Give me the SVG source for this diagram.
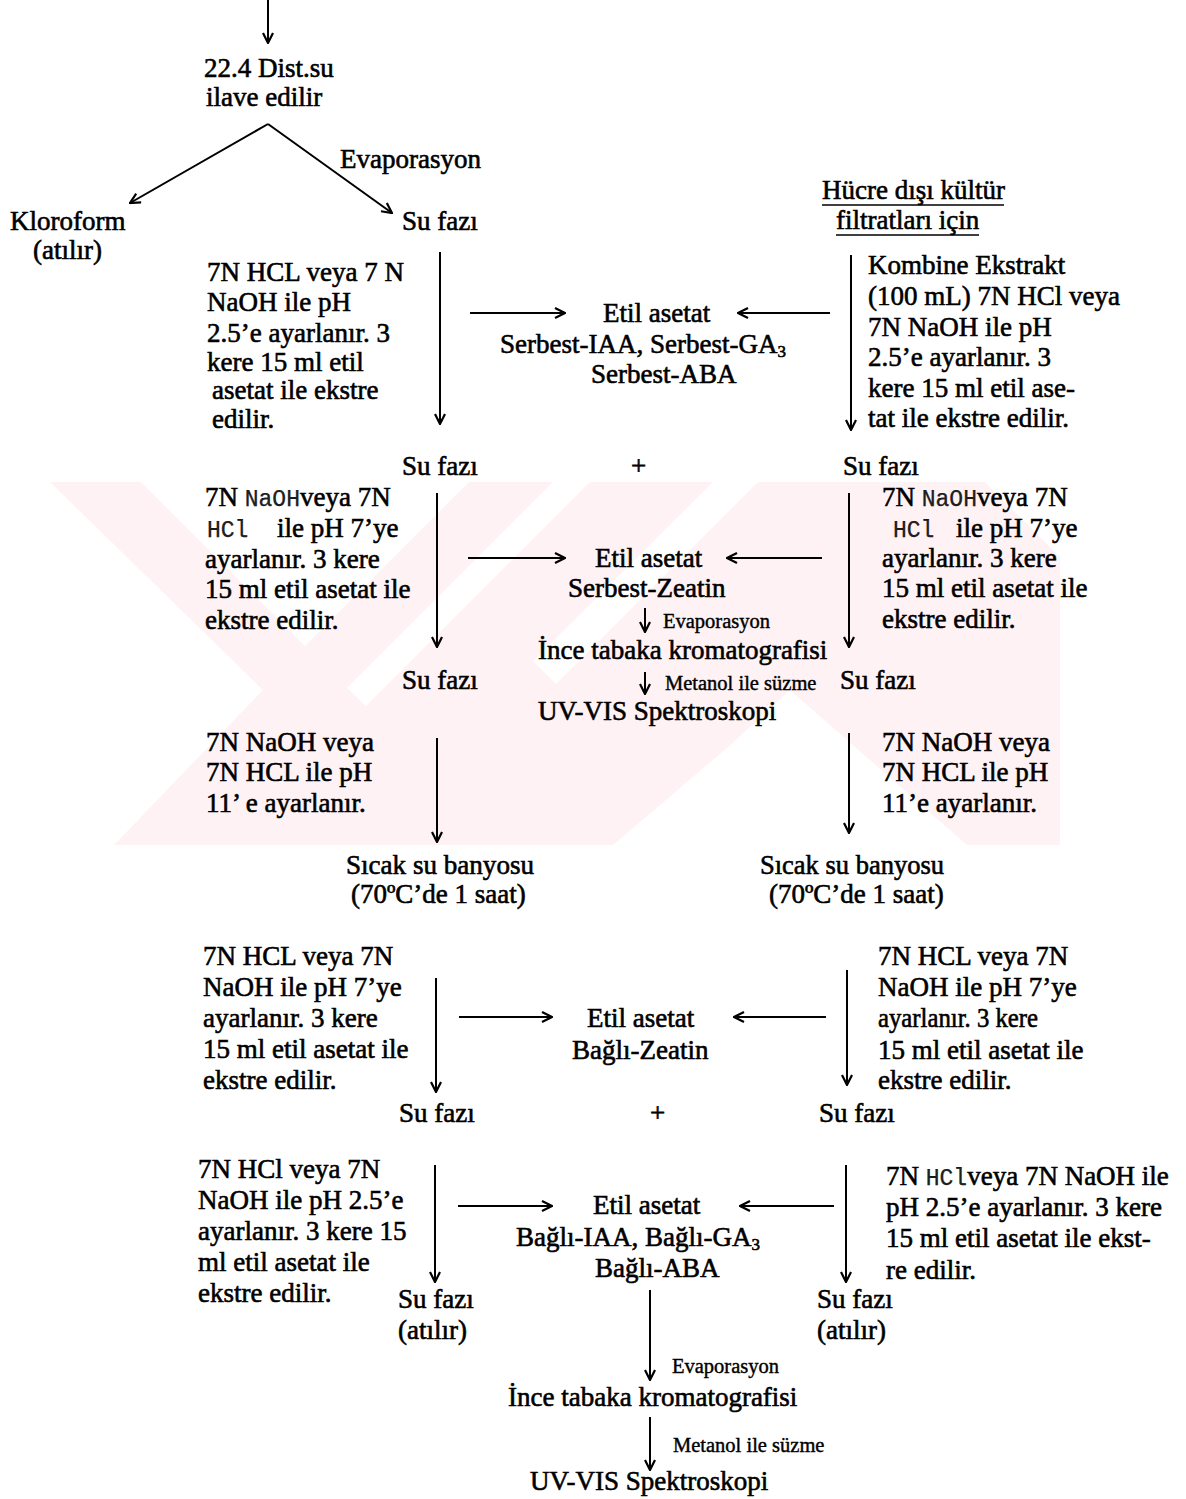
<svg xmlns="http://www.w3.org/2000/svg" width="1186" height="1499" viewBox="0 0 1186 1499">
<style>
text{font-family:"Liberation Serif","Times New Roman",serif;font-size:27px;fill:#000;stroke:#000;stroke-width:0.6}
.sm{font-size:20.5px;stroke-width:0.4}
.mono{font-family:"Liberation Mono","Courier New",monospace;font-size:23px;stroke-width:0.25;fill:#222}
.sub{font-size:17px}
.c line{stroke:#000;stroke-width:2;fill:none}
.ul{stroke:#000;stroke-width:1.6}
.wm{fill:#fef2f4}
.wc{fill:#fff}
</style>
<defs>
<marker id="ah" viewBox="0 0 12 12" refX="11" refY="6" markerWidth="12" markerHeight="12" markerUnits="userSpaceOnUse" orient="auto"><path d="M1,1 L11,6 L1,11" fill="none" stroke="#000" stroke-width="2.2"/></marker>
</defs>
<rect width="1186" height="1499" fill="#fff"/>
<g id="watermark">
<rect class="wm" x="45" y="482" width="1015" height="363"/>
<polygon class="wc" points="40,482 50,482 263,690 114,845 40,845"/>
<polygon class="wc" points="141,482 469,482 305,646"/>
<polygon class="wc" points="553,482 590,482 366,706 347,688"/>
<polygon class="wc" points="713,482 758,482 556,684 533,661"/>
<polygon class="wc" points="613,845 727,748 790,690 967,845"/>
<polygon class="wc" points="985,482 1061,482 1061,558"/>
</g>
<g id="connectors" class="c">
<line x1="268" y1="0" x2="268" y2="43" marker-end="url(#ah)"/>
<line x1="268" y1="124" x2="130" y2="203" marker-end="url(#ah)"/>
<line x1="268" y1="124" x2="392" y2="213" marker-end="url(#ah)"/>
<line x1="440" y1="252" x2="440" y2="424" marker-end="url(#ah)"/>
<line x1="851" y1="255" x2="851" y2="430" marker-end="url(#ah)"/>
<line x1="470" y1="313" x2="565" y2="313" marker-end="url(#ah)"/>
<line x1="830" y1="313" x2="738" y2="313" marker-end="url(#ah)"/>
<line x1="437" y1="493" x2="437" y2="647" marker-end="url(#ah)"/>
<line x1="849" y1="493" x2="849" y2="647" marker-end="url(#ah)"/>
<line x1="468" y1="558" x2="565" y2="558" marker-end="url(#ah)"/>
<line x1="822" y1="558" x2="727" y2="558" marker-end="url(#ah)"/>
<line x1="645" y1="608" x2="645" y2="632" marker-end="url(#ah)"/>
<line x1="645" y1="672" x2="645" y2="694" marker-end="url(#ah)"/>
<line x1="437" y1="738" x2="437" y2="842" marker-end="url(#ah)"/>
<line x1="849" y1="733" x2="849" y2="833" marker-end="url(#ah)"/>
<line x1="436" y1="978" x2="436" y2="1092" marker-end="url(#ah)"/>
<line x1="847" y1="970" x2="847" y2="1085" marker-end="url(#ah)"/>
<line x1="459" y1="1017" x2="552" y2="1017" marker-end="url(#ah)"/>
<line x1="826" y1="1017" x2="734" y2="1017" marker-end="url(#ah)"/>
<line x1="435" y1="1165" x2="435" y2="1282" marker-end="url(#ah)"/>
<line x1="846" y1="1165" x2="846" y2="1282" marker-end="url(#ah)"/>
<line x1="458" y1="1206" x2="552" y2="1206" marker-end="url(#ah)"/>
<line x1="834" y1="1206" x2="740" y2="1206" marker-end="url(#ah)"/>
<line x1="650" y1="1290" x2="650" y2="1380" marker-end="url(#ah)"/>
<line x1="650" y1="1417" x2="650" y2="1470" marker-end="url(#ah)"/>
</g>
<g id="n-dist">
<text x="204" y="77">22.4 Dist.su</text>
<text x="206" y="106">ilave edilir</text>
</g>
<g id="e-evap1"><text x="340" y="168">Evaporasyon</text></g>
<g id="n-kloroform">
<text x="10" y="230">Kloroform</text>
<text x="33" y="259">(atılır)</text>
</g>
<g id="n-sufazi1"><text x="402" y="230">Su fazı</text></g>
<g id="n-hucre">
<text x="822" y="199">Hücre dışı kültür</text>
<line class="ul" x1="822" y1="205" x2="1004" y2="205"/>
<text x="836" y="229">filtratları için</text>
<line class="ul" x1="836" y1="235" x2="979" y2="235"/>
</g>
<g id="n-step1-left">
<text x="207" y="281">7N HCL veya 7 N</text>
<text x="207" y="311">NaOH ile pH</text>
<text x="207" y="342">2.5’e ayarlanır. 3</text>
<text x="207" y="371">kere 15 ml etil</text>
<text x="212" y="399">asetat ile  ekstre</text>
<text x="212" y="428">edilir.</text>
</g>
<g id="n-etil1">
<text x="603" y="322">Etil asetat</text>
<text x="500" y="353">Serbest-IAA, Serbest-GA<tspan class="sub" dy="4">3</tspan></text>
<text x="591" y="383">Serbest-ABA</text>
</g>
<g id="n-step1-right">
<text x="868" y="274">Kombine Ekstrakt</text>
<text x="868" y="305">(100 mL) 7N HCl veya</text>
<text x="868" y="336">7N NaOH ile pH</text>
<text x="868" y="366">2.5’e ayarlanır. 3</text>
<text x="868" y="397">kere 15 ml etil ase-</text>
<text x="868" y="427">tat ile ekstre edilir.</text>
</g>
<g id="n-sufazi2">
<text x="402" y="475">Su fazı</text>
<text x="631" y="475">+</text>
<text x="843" y="475">Su fazı</text>
</g>
<g id="n-step2-left">
<text x="205" y="506">7N <tspan class="mono">NaOH</tspan>veya 7N</text>
<text x="207" y="537" class="mono">HCl</text>
<text x="277" y="537">ile pH 7’ye</text>
<text x="205" y="568">ayarlanır. 3 kere</text>
<text x="205" y="598">15 ml etil asetat ile</text>
<text x="205" y="629">ekstre edilir.</text>
</g>
<g id="n-etil2">
<text x="595" y="567">Etil asetat</text>
<text x="568" y="597">Serbest-Zeatin</text>
<text class="sm" x="663" y="628">Evaporasyon</text>
<text x="538" y="659">İnce tabaka kromatografisi</text>
<text class="sm" x="665" y="690">Metanol ile süzme</text>
<text x="538" y="720">UV-VIS Spektroskopi</text>
</g>
<g id="n-step2-right">
<text x="882" y="506">7N <tspan class="mono">NaOH</tspan>veya 7N</text>
<text x="893" y="537" class="mono">HCl</text>
<text x="956" y="537">ile pH 7’ye</text>
<text x="882" y="567">ayarlanır. 3 kere</text>
<text x="882" y="597">15 ml etil asetat ile</text>
<text x="882" y="628">ekstre edilir.</text>
</g>
<g id="n-sufazi3">
<text x="402" y="689">Su fazı</text>
<text x="840" y="689">Su fazı</text>
</g>
<g id="n-step3-left">
<text x="206" y="751">7N NaOH veya</text>
<text x="206" y="781">7N HCL ile pH</text>
<text x="206" y="812">11’ e ayarlanır.</text>
</g>
<g id="n-step3-right">
<text x="882" y="751">7N NaOH veya</text>
<text x="882" y="781">7N HCL ile pH</text>
<text x="882" y="812">11’e ayarlanır.</text>
</g>
<g id="n-banyo-left">
<text x="346" y="874" textLength="188" lengthAdjust="spacingAndGlyphs">Sıcak su banyosu</text>
<text x="351" y="903">(70ºC’de 1 saat)</text>
</g>
<g id="n-banyo-right">
<text x="760" y="874" textLength="184" lengthAdjust="spacingAndGlyphs">Sıcak su banyosu</text>
<text x="769" y="903">(70ºC’de 1 saat)</text>
</g>
<g id="n-step4-left">
<text x="203" y="965">7N HCL veya 7N</text>
<text x="203" y="996">NaOH ile pH 7’ye</text>
<text x="203" y="1027">ayarlanır. 3 kere</text>
<text x="203" y="1058">15 ml etil asetat ile</text>
<text x="203" y="1089">ekstre edilir.</text>
</g>
<g id="n-etil4">
<text x="587" y="1027">Etil asetat</text>
<text x="572" y="1059">Bağlı-Zeatin</text>
</g>
<g id="n-step4-right">
<text x="878" y="965">7N HCL veya 7N</text>
<text x="878" y="996">NaOH ile pH 7’ye</text>
<text x="878" y="1027" textLength="160" lengthAdjust="spacingAndGlyphs">ayarlanır. 3 kere</text>
<text x="878" y="1059">15 ml etil asetat ile</text>
<text x="878" y="1089">ekstre edilir.</text>
</g>
<g id="n-sufazi4">
<text x="399" y="1122">Su fazı</text>
<text x="650" y="1122">+</text>
<text x="819" y="1122">Su fazı</text>
</g>
<g id="n-step5-left">
<text x="198" y="1178">7N HCl veya 7N</text>
<text x="198" y="1209">NaOH ile pH  2.5’e</text>
<text x="198" y="1240">ayarlanır. 3 kere 15</text>
<text x="198" y="1271">ml etil asetat ile</text>
<text x="198" y="1302">ekstre edilir.</text>
</g>
<g id="n-etil5">
<text x="593" y="1214">Etil asetat</text>
<text x="516" y="1246">Bağlı-IAA, Bağlı-GA<tspan class="sub" dy="4">3</tspan></text>
<text x="595" y="1277">Bağlı-ABA</text>
</g>
<g id="n-step5-right">
<text x="886" y="1185">7N <tspan class="mono">HCl</tspan>veya 7N NaOH ile</text>
<text x="886" y="1216">pH 2.5’e ayarlanır. 3 kere</text>
<text x="886" y="1247">15 ml etil asetat ile ekst-</text>
<text x="886" y="1279">re edilir.</text>
</g>
<g id="n-sufazi5-left">
<text x="398" y="1308">Su fazı</text>
<text x="398" y="1339">(atılır)</text>
</g>
<g id="n-sufazi5-right">
<text x="817" y="1308">Su fazı</text>
<text x="817" y="1339">(atılır)</text>
</g>
<g id="n-final">
<text class="sm" x="672" y="1373">Evaporasyon</text>
<text x="508" y="1406">İnce tabaka kromatografisi</text>
<text class="sm" x="673" y="1452">Metanol ile süzme</text>
<text x="530" y="1490">UV-VIS Spektroskopi</text>
</g>
</svg>
